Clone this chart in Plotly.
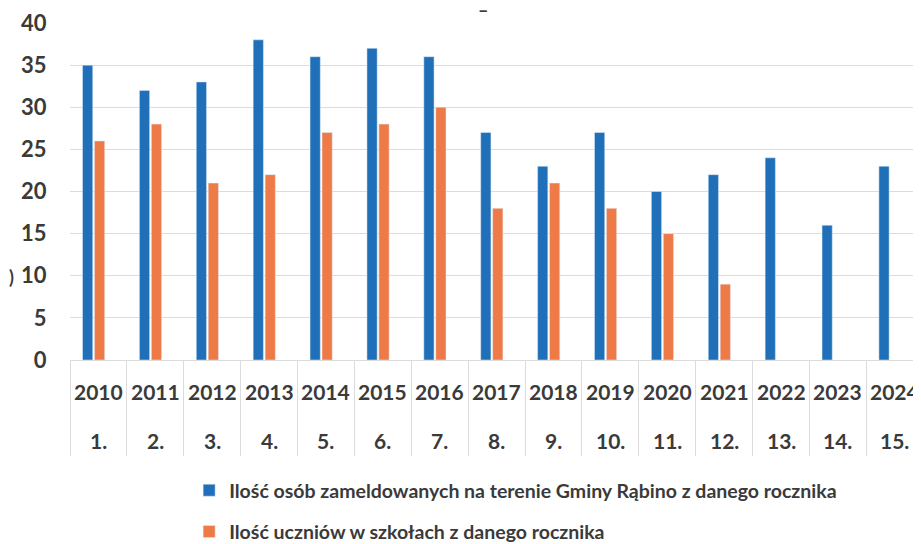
import plotly.graph_objects as go

years = ["2010", "2011", "2012", "2013", "2014", "2015", "2016", "2017",
         "2018", "2019", "2020", "2021", "2022", "2023", "2024"]
numbers = ["1.", "2.", "3.", "4.", "5.", "6.", "7.", "8.", "9.", "10.",
           "11.", "12.", "13.", "14.", "15."]
registered = [35, 32, 33, 38, 36, 37, 36, 27, 23, 27, 20, 22, 24, 16, 23]
students = [26, 28, 21, 22, 27, 28, 30, 18, 21, 18, 15, 9, None, None, None]
y_ticks = [0, 5, 10, 15, 20, 25, 30, 35, 40]

name_reg = "Ilość osób zameldowanych na terenie Gminy Rąbino z danego rocznika"
name_stu = "Ilość uczniów w szkołach z danego rocznika"

BLUE = "#1f70b8"
ORANGE = "#ee7a48"
TXT = "#3a3a3a"
GRID = "#dcdcdc"
FONT = "Lato"

fig = go.Figure()
fig.add_trace(go.Bar(x=years, y=registered, name=name_reg, marker_color=BLUE,
                     offset=-0.28, width=0.18, legendgroup="a"))
fig.add_trace(go.Bar(x=years, y=students, name=name_stu, marker_color=ORANGE,
                     offset=-0.07, width=0.18, legendgroup="b"))

annotations = []
for i, (yr, nm) in enumerate(zip(years, numbers)):
    annotations.append(dict(x=i, y=-0.092, xref="x", yref="paper", text=yr,
                            showarrow=False, yanchor="middle",
                            font=dict(family=FONT, size=21, color=TXT, weight="bold")))
    annotations.append(dict(x=i, y=-0.238, xref="x", yref="paper", text=nm,
                            showarrow=False, yanchor="middle",
                            font=dict(family=FONT, size=21, color=TXT, weight="bold")))
annotations.append(dict(x=-0.074, y=0.208, xref="paper", yref="paper", text=")",
                        showarrow=False, font=dict(family=FONT, size=18, color=TXT, weight="bold")))
annotations.append(dict(x=0.485, y=1.04, xref="paper", yref="paper", text="–",
                        showarrow=False, yanchor="middle",
                        font=dict(family=FONT, size=18, color=TXT, weight="bold")))

fig.update_layout(
    width=913, height=560,
    margin=dict(l=62, r=0, t=15, b=208),
    paper_bgcolor="white", plot_bgcolor="white",
    barmode="group",
    xaxis=dict(type="category", categoryorder="array", categoryarray=years,
               range=[-0.5, 14.46], showticklabels=False,
               ticks="outside", tickson="boundaries", ticklen=95,
               tickcolor=GRID, tickwidth=1, showgrid=False,
               showline=True, linecolor=GRID, linewidth=1, automargin=False),
    yaxis=dict(range=[0, 40], tickvals=y_ticks, showgrid=True, gridcolor=GRID,
               gridwidth=1, zeroline=False, showline=False, automargin=False,
               ticks="outside", ticklen=18, tickcolor="rgba(0,0,0,0)",
               tickfont=dict(family=FONT, size=22, color=TXT, weight="bold")),
    showlegend=True,
    legend=dict(x=0.140, y=-0.3294, xanchor="left", yanchor="top",
                orientation="v", traceorder="grouped", tracegroupgap=13,
                font=dict(family=FONT, size=19.5, color=TXT, weight="bold"),
                bgcolor="rgba(0,0,0,0)"),
    annotations=annotations,
)

fig.write_html("out.html")
